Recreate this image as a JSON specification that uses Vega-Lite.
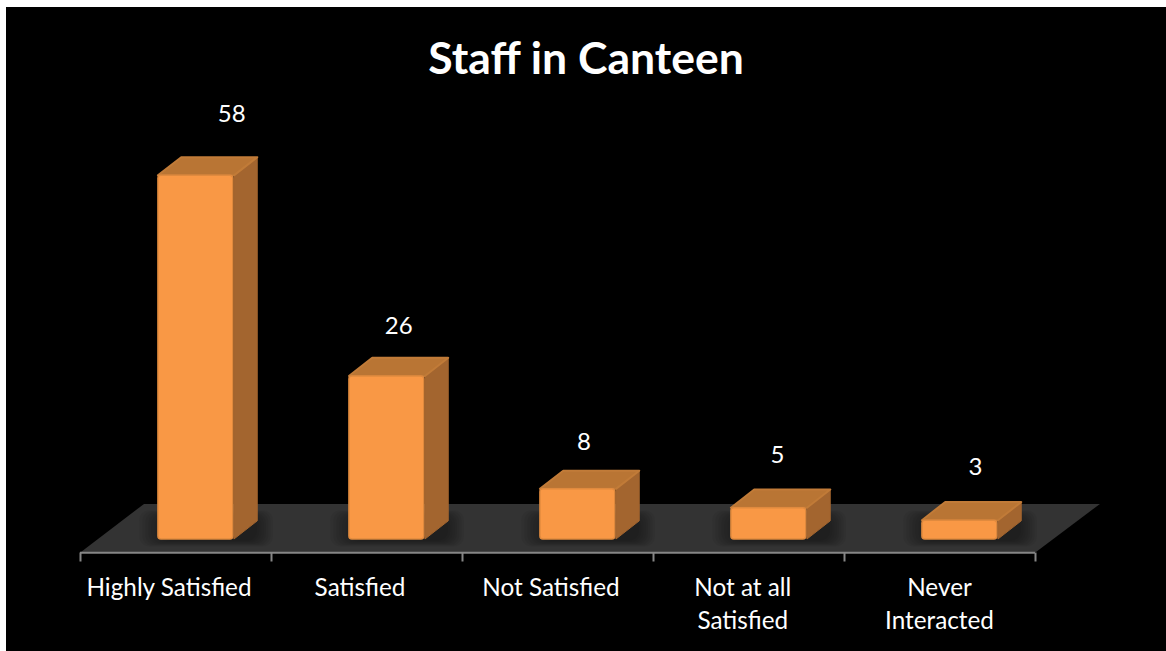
{
"$schema":"https://vega.github.io/schema/vega-lite/v6.json",
"width":1160,"height":644,
"autosize":{"type":"none"},
"padding":{"left":6,"top":7,"right":0,"bottom":0},
"background":"#ffffff",
"view":{"fill":"#000000","stroke":null},
"title":{"text":"Staff in Canteen","font":"Lato","fontSize":44.5,"fontWeight":"bold","color":"#ffffff","anchor":"middle","baseline":"middle","offset":-98,"dx":0},
"datasets":{
"bars":[
{"idx":0,"category":"Highly Satisfied","value":58},
{"idx":1,"category":"Satisfied","value":26},
{"idx":2,"category":"Not Satisfied","value":8},
{"idx":3,"category":"Not at all Satisfied","value":5},
{"idx":4,"category":"Never Interacted","value":3}
],
"floor":[
{"order":1,"fx":0,"fy":-2.2},
{"order":2,"fx":5,"fy":-2.2},
{"order":3,"fx":5.34,"fy":5.6},
{"order":4,"fx":0.335,"fy":5.6}
]
},
"encoding":{},
"layer":[
{"data":{"name":"floor"},
"mark":{"type":"line","fill":"#333333","stroke":"#333333","strokeWidth":0,"clip":false},
"encoding":{
"x":{"field":"fx","type":"quantitative","scale":{"domain":[-0.3874,5.6859],"nice":false,"zero":false},
"axis":{"values":[0,1,2,3,4,5],"labels":false,"domain":false,"grid":false,"title":null,"tickSize":9,"tickWidth":2,"tickColor":"#868686","offset":-99}},
"y":{"field":"fy","type":"quantitative","scale":{"domain":[-17.86,84.85],"nice":false,"zero":false},"axis":null},
"order":{"field":"order"}
}},
{"data":{"name":"floor"},
"transform":[{"filter":"datum.order==1"}],
"mark":{"type":"rule","color":"#868686","strokeWidth":2},
"encoding":{
"x":{"field":"fx","type":"quantitative"},
"x2":{"datum":5},
"y":{"field":"fy","type":"quantitative"}
}},
{"data":{"name":"bars"},
"transform":[
{"calculate":"[0,1,2,3,4,5,6,7]","as":"k"},{"flatten":["k"]},
{"calculate":"datum.idx+0.31+datum.k*0.016","as":"a"},
{"calculate":"datum.idx+1.01-datum.k*0.012","as":"b"},
{"calculate":"-1.2+datum.k*0.13","as":"lo"},
{"calculate":"4.6-datum.k*0.15","as":"hi"}],
"mark":{"type":"rect","fill":"#000000","opacity":0.05,"cornerRadius":10},
"encoding":{"x":{"field":"a","type":"quantitative"},"x2":{"field":"b"},"y":{"field":"lo","type":"quantitative"},"y2":{"field":"hi"}}},
{"data":{"name":"bars"},
"transform":[
{"calculate":"[0,1]","as":"t"},{"flatten":["t"]},
{"calculate":"datum.idx+0.806+datum.t*0.122","as":"sx"},
{"calculate":"datum.t*2.9","as":"sy0"},
{"calculate":"datum.value+datum.t*2.9","as":"sy1"}],
"mark":{"type":"area","orient":"vertical","fill":"#A3652F","stroke":"#A3652F","strokeWidth":1,"strokeJoin":"round"},
"encoding":{"x":{"field":"sx","type":"quantitative"},"y":{"field":"sy0","type":"quantitative"},"y2":{"field":"sy1"},"detail":{"field":"idx"}}},
{"data":{"name":"bars"},
"transform":[
{"calculate":"[0,1]","as":"t"},{"flatten":["t"]},
{"calculate":"datum.idx+0.408+datum.t*0.122","as":"tx0"},
{"calculate":"datum.idx+0.806+datum.t*0.122","as":"tx1"},
{"calculate":"datum.value+datum.t*2.9","as":"ty"}],
"mark":{"type":"area","orient":"horizontal","fill":"#B97534","stroke":"#C17B38","strokeWidth":2,"strokeJoin":"round"},
"encoding":{"y":{"field":"ty","type":"quantitative"},"x":{"field":"tx0","type":"quantitative"},"x2":{"field":"tx1"},"detail":{"field":"idx"}}},
{"data":{"name":"bars"},
"transform":[
{"calculate":"datum.idx+0.408","as":"x0"},
{"calculate":"datum.idx+0.8","as":"x1"},
{"calculate":"0","as":"base"}],
"mark":{"type":"rect","fill":"#F99845","stroke":"#E08A3E","strokeWidth":1.5,"cornerRadius":3},
"encoding":{
"x":{"field":"x0","type":"quantitative"},"x2":{"field":"x1"},
"y":{"field":"base","type":"quantitative"},"y2":{"field":"value"},
"tooltip":[{"field":"category"},{"field":"value"}]}},
{"data":{"name":"bars"},
"transform":[
{"calculate":"datum.idx+0.408+[0.19,0.065,0.035,0.047,0.084][datum.idx]+0.196","as":"lx"},
{"calculate":"datum.value+[6.7,4.95,4.45,5.3,5.5][datum.idx]+2.9","as":"ly"}],
"mark":{"type":"text","font":"Lato","fontSize":24,"color":"#ffffff","baseline":"middle","align":"center"},
"encoding":{
"x":{"field":"lx","type":"quantitative"},
"y":{"field":"ly","type":"quantitative"},
"text":{"field":"value","type":"quantitative"}}},
{"data":{"name":"bars"},
"transform":[
{"calculate":"replace(replace(datum.category,'at all ','at all\\n'),'Never ','Never\\n')","as":"label"},
{"calculate":"datum.idx+[0.466,0.466,0.466,0.47,0.5][datum.idx]","as":"lx"},
{"calculate":"-6.05","as":"ly"}],
"mark":{"type":"text","font":"Lato","fontSize":24.3,"color":"#ffffff","baseline":"top","align":"center","lineBreak":"\n","lineHeight":33},
"encoding":{
"x":{"field":"lx","type":"quantitative"},
"y":{"field":"ly","type":"quantitative"},
"text":{"field":"label","type":"nominal"}}}
],
"config":{"legend":{"disable":true}}
}
